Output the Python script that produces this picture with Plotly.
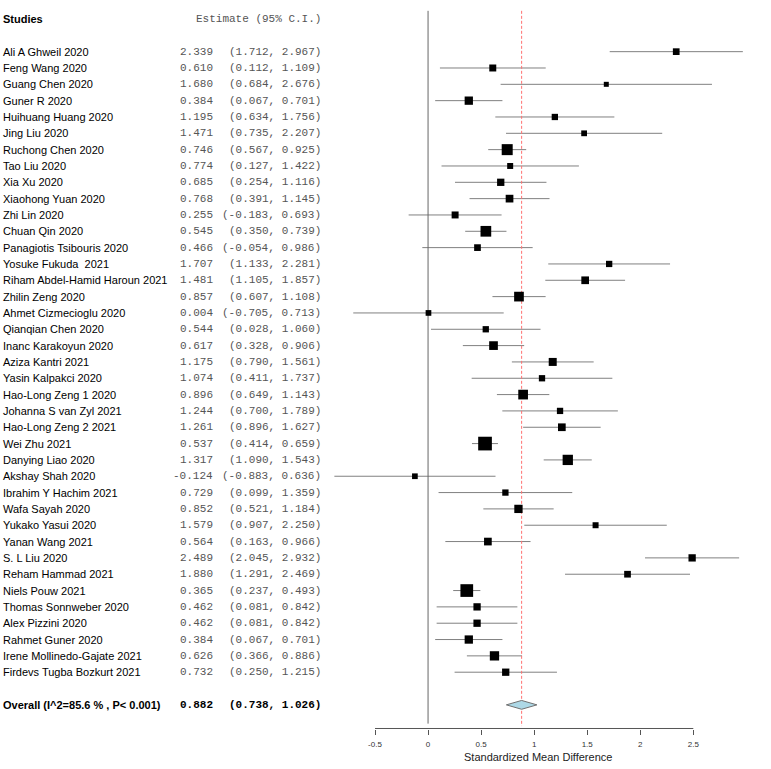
import plotly.graph_objects as go

studies = ["Ali A Ghweil 2020", "Feng Wang 2020", "Guang Chen 2020", "Guner R 2020",
           "Huihuang Huang 2020", "Jing Liu 2020", "Ruchong Chen 2020", "Tao Liu 2020",
           "Xia Xu 2020", "Xiaohong Yuan 2020", "Zhi Lin 2020", "Chuan Qin 2020",
           "Panagiotis Tsibouris 2020", "Yosuke Fukuda  2021", "Riham Abdel-Hamid Haroun 2021",
           "Zhilin Zeng 2020", "Ahmet Cizmecioglu 2020", "Qianqian Chen 2020",
           "Inanc Karakoyun 2020", "Aziza Kantri 2021", "Yasin Kalpakci 2020",
           "Hao-Long Zeng 1 2020", "Johanna S van Zyl 2021", "Hao-Long Zeng 2 2021",
           "Wei Zhu 2021", "Danying Liao 2020", "Akshay Shah 2020", "Ibrahim Y Hachim 2021",
           "Wafa Sayah 2020", "Yukako Yasui 2020", "Yanan Wang 2021", "S. L Liu 2020",
           "Reham Hammad 2021", "Niels Pouw 2021", "Thomas Sonnweber 2020", "Alex Pizzini 2020",
           "Rahmet Guner 2020", "Irene Mollinedo-Gajate 2021", "Firdevs Tugba Bozkurt 2021"]
est = [2.339, 0.610, 1.680, 0.384, 1.195, 1.471, 0.746, 0.774, 0.685, 0.768, 0.255, 0.545,
       0.466, 1.707, 1.481, 0.857, 0.004, 0.544, 0.617, 1.175, 1.074, 0.896, 1.244, 1.261,
       0.537, 1.317, -0.124, 0.729, 0.852, 1.579, 0.564, 2.489, 1.880, 0.365, 0.462, 0.462,
       0.384, 0.626, 0.732]
lo = [1.712, 0.112, 0.684, 0.067, 0.634, 0.735, 0.567, 0.127, 0.254, 0.391, -0.183, 0.350,
      -0.054, 1.133, 1.105, 0.607, -0.705, 0.028, 0.328, 0.790, 0.411, 0.649, 0.700, 0.896,
      0.414, 1.090, -0.883, 0.099, 0.521, 0.907, 0.163, 2.045, 1.291, 0.237, 0.081, 0.081,
      0.067, 0.366, 0.250]
hi = [2.967, 1.109, 2.676, 0.701, 1.756, 2.207, 0.925, 1.422, 1.116, 1.145, 0.693, 0.739,
      0.986, 2.281, 1.857, 1.108, 0.713, 1.060, 0.906, 1.561, 1.737, 1.143, 1.789, 1.627,
      0.659, 1.543, 0.636, 1.359, 1.184, 2.250, 0.966, 2.932, 2.469, 0.493, 0.842, 0.842,
      0.701, 0.886, 1.215]
# relative study weights (%)
weights = [1.81, 1.97, 1.01, 2.78, 1.60, 1.35, 4.88, 1.45, 2.15, 2.39, 1.97, 4.61, 1.81,
           1.60, 2.39, 3.79, 1.31, 1.60, 3.05, 2.58, 1.60, 3.79, 1.60, 2.39, 7.56, 4.27,
           1.31, 1.60, 2.78, 1.45, 2.39, 2.15, 1.81, 6.50, 2.15, 2.15, 2.78, 3.49, 2.15]
overall_label = "Overall (I^2=85.6 % , P< 0.001)"
overall_est, overall_lo, overall_hi = 0.882, 0.738, 1.026
tick_vals = [-0.5, 0, 0.5, 1, 1.5, 2, 2.5]
tick_text = ["-0.5", "0", "0.5", "1", "1.5", "2", "2.5"]
x_title = "Standardized Mean Difference"

W, H = 771, 769
n = len(studies)
rows = [i + 2 for i in range(n)]
overall_row = n + 3

SANS = "Liberation Sans, Arial, sans-serif"
MONO = "Liberation Mono, Courier New, monospace"

fig = go.Figure()

# CI lines
cx, cy = [], []
for r, a, b in zip(rows, lo, hi):
    cx += [a, b, None]
    cy += [r, r, None]
fig.add_trace(go.Scatter(x=cx, y=cy, mode="lines", line=dict(color="#808080", width=1),
                         hoverinfo="skip", showlegend=False))

# null line and overall line
fig.add_trace(go.Scatter(x=[0, 0], y=[-0.5, overall_row + 1.15], mode="lines",
                         line=dict(color="#666666", width=1), showlegend=False, hoverinfo="skip"))
fig.add_trace(go.Scatter(x=[overall_est, overall_est], y=[-0.5, overall_row + 1.3], mode="lines",
                         line=dict(color="#ff7070", width=1, dash="3px,2px"),
                         showlegend=False, hoverinfo="skip"))

# boxes
sizes = [(w ** 0.5) * 4.98 for w in weights]
fig.add_trace(go.Scatter(x=est, y=rows, mode="markers",
                         marker=dict(symbol="square", size=sizes, color="#000000", opacity=1,
                                     line=dict(width=0)),
                         showlegend=False))

# diamond
h = 0.27
fig.add_trace(go.Scatter(x=[overall_lo, overall_est, overall_hi, overall_est, overall_lo],
                         y=[overall_row, overall_row - h, overall_row, overall_row + h, overall_row],
                         mode="lines", fill="toself", fillcolor="#ADD8E6",
                         line=dict(color="#707070", width=1), showlegend=False))

ann = []
def px(p):
    return p / W

ann.append(dict(x=px(1), y=0, xref="paper", yref="y", text="<b>Studies</b>", showarrow=False,
                xanchor="left", yanchor="middle", font=dict(family=SANS, size=11, color="black")))
ann.append(dict(x=px(323), y=0, xref="paper", yref="y", text="Estimate (95% C.I.)", showarrow=False,
                xanchor="right", yanchor="middle", font=dict(family=MONO, size=11, color="#555555")))
for r, s, e, a, b in zip(rows, studies, est, lo, hi):
    ann.append(dict(x=px(1), y=r, xref="paper", yref="y", text=s, showarrow=False,
                    xanchor="left", yanchor="middle", font=dict(family=SANS, size=11, color="black")))
    ann.append(dict(x=px(215), y=r, xref="paper", yref="y", text=f"{e:.3f}", showarrow=False,
                    xanchor="right", yanchor="middle", font=dict(family=MONO, size=11, color="#555555")))
    ann.append(dict(x=px(323), y=r, xref="paper", yref="y", text=f"({a:.3f}, {b:.3f})", showarrow=False,
                    xanchor="right", yanchor="middle", font=dict(family=MONO, size=11, color="#555555")))
ann.append(dict(x=px(1), y=overall_row, xref="paper", yref="y", text=f"<b>{overall_label}</b>",
                showarrow=False, xanchor="left", yanchor="middle",
                font=dict(family=SANS, size=11, color="black")))
ann.append(dict(x=px(215), y=overall_row, xref="paper", yref="y", text=f"<b>{overall_est:.3f}</b>",
                showarrow=False, xanchor="right", yanchor="middle",
                font=dict(family=MONO, size=11, color="black")))
ann.append(dict(x=px(323), y=overall_row, xref="paper", yref="y",
                text=f"<b>({overall_lo:.3f}, {overall_hi:.3f})</b>",
                showarrow=False, xanchor="right", yanchor="middle",
                font=dict(family=MONO, size=11, color="black")))
ann.append(dict(x=(tick_vals[0] + tick_vals[-1]) / 2 + 0.04, y=-28 / 729, xref="x", yref="paper",
                text=x_title, showarrow=False, xanchor="center", yanchor="middle",
                font=dict(family=SANS, size=11, color="#222222")))

# axis line spanning tick range
shapes = [dict(type="line", xref="x", yref="paper", x0=tick_vals[0], x1=tick_vals[-1],
               y0=0.0007, y1=0.0007, line=dict(color="#555555", width=1))]

px_per_unit = 106.1
zero_px = 428.05
top_px, row_px = 19.0, 16.33
plot_bottom = 729

fig.update_layout(
    width=W, height=H, margin=dict(l=0, r=0, t=0, b=H - plot_bottom),
    paper_bgcolor="white", plot_bgcolor="white",
    annotations=ann, shapes=shapes,
    xaxis=dict(range=[-zero_px / px_per_unit, (W - zero_px) / px_per_unit],
               tickvals=tick_vals, ticktext=tick_text, ticks="outside", ticklen=5,
               tickcolor="#555555", showgrid=False, zeroline=False, showline=False,
               ticklabelstandoff=2,
               tickfont=dict(family=SANS, size=8, color="#333333")),
    yaxis=dict(range=[(plot_bottom - top_px) / row_px, -top_px / row_px],
               showgrid=False, zeroline=False, showline=False, showticklabels=False, ticks=""),
)

fig.write_html("out.html", config={"displayModeBar": False},
               post_script="document.body.style.margin='0px';document.body.style.padding='0px';")
